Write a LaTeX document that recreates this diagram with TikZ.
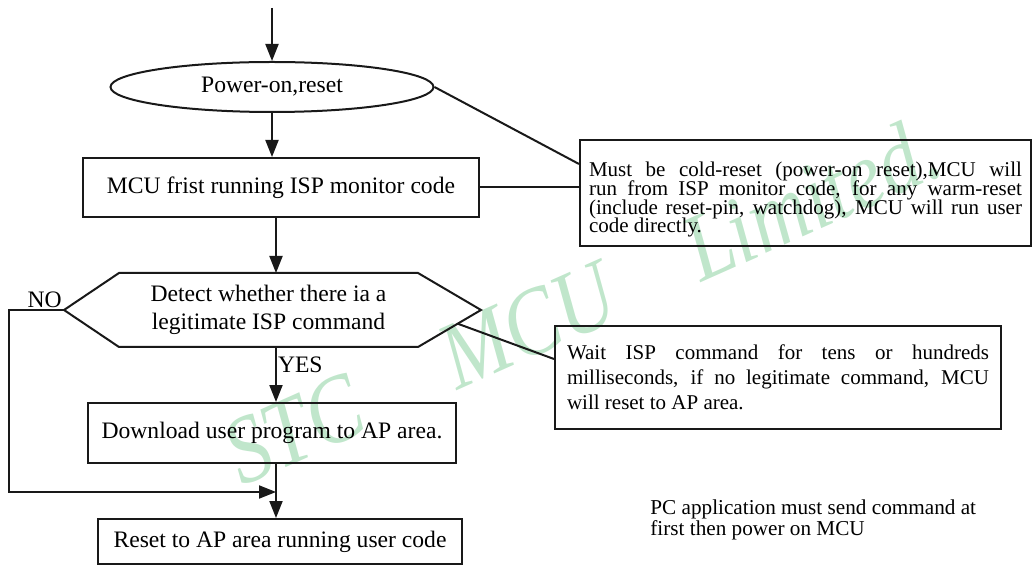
\documentclass[tikz,border=0pt]{standalone}
\usepackage{fontspec}
\setmainfont{Liberation Serif}
\usetikzlibrary{arrows.meta,calc,positioning,shapes.geometric}
\definecolor{markgreen}{RGB}{192,230,203}
\newcommand{\tightlines}{\lineskiplimit=-6pt\relax}
\tikzset{
  flow/.style={-{Triangle[length=8.5pt,width=6.5pt]}, line width=1pt, draw=black!90},
  link/.style={line width=1pt, draw=black!90},
  stepbox/.style={draw=black!90, line width=1pt, rectangle, align=center, inner sep=0pt, font=\fontsize{11.8}{14}\selectfont},
  remark/.style={draw=black!90, line width=1pt, rectangle, align=justify, inner ysep=0pt, font=\fontsize{10.5}{12.5}\selectfont},
  tag/.style={font=\fontsize{11.8}{14}\selectfont, inner sep=0.5pt}
}
\hyphenpenalty=10000
\exhyphenpenalty=10000

\begin{document}
\begin{tikzpicture}[x=0.5pt, y=-0.5pt]
  \useasboundingbox (0,0) rectangle (1032,566);
  % watermark behind everything
  \node[rotate=24, anchor=base west, inner sep=0pt, text=markgreen, font=\fontsize{48}{50}\selectfont\itshape] (mark) at (242,487)
    {\scalebox{0.85}[1]{STC\hspace{56pt}MCU\hspace{50pt}Limited.}};

  \coordinate (entry) at (272,8);
  \coordinate (spine) at (276,0);
  \node[stepbox, ellipse, minimum width=161.5pt, minimum height=25pt] (power) at (272,87) {Power-on,reset};
  \node[stepbox, minimum width=198pt, minimum height=29.5pt] (monitor) at (281,187.5) {MCU frist running ISP monitor code};
  \node[stepbox, draw=none, minimum width=148.5pt, minimum height=36pt] (detect) at (268.5,310) {Detect whether there ia a\\legitimate ISP command};
  \coordinate (detect-w) at ($(detect.west)+(-55,0)$);
  \coordinate (detect-e) at ($(detect.east)+(63,0)$);
  \draw[link] (detect.north west) -- (detect.north east) -- (detect-e) -- (detect.south east) -- (detect.south west) -- (detect-w) -- cycle;
  \node[stepbox, minimum width=184pt, minimum height=30pt] (download) at (272,433) {Download user program to AP area.};
  \node[stepbox, minimum width=182pt, minimum height=22.5pt] (restart) at (280,541.5) {Reset to AP area running user code};
  \coordinate (merge) at (276,492);

  \node[remark, text width=216.5pt, inner xsep=4.5pt, minimum height=53pt, font=\fontsize{10.5}{9.3}\selectfont\tightlines] (coldnote) at (805.5,193)
    {\vrule height 14pt width 0pt Must be cold-reset (power-on reset),MCU will\linebreak run from ISP monitor code, for any warm-reset\linebreak (include reset-pin, watchdog), MCU will run user\linebreak code directly.};
  \node[remark, text width=211pt, inner xsep=6pt, minimum height=51.5pt] (waitnote) at (778,377.5)
    {Wait ISP command for tens or hundreds\linebreak milliseconds, if no legitimate command, MCU\linebreak will reset to AP area.};
  \node[align=left, anchor=west, inner sep=0pt, font=\fontsize{10.6}{10.5}\selectfont] (pcnote) at (650,520)
    {PC application must send command at\\first then power on MCU};

  \draw[flow] (entry) -- (power.north);
  \draw[flow] (power.south) -- (power.south |- monitor.north);
  \draw[flow] (monitor.south -| spine) -- (detect.north -| spine);
  \draw[flow] (detect.south -| spine) -- node[tag, right, pos=0.33] {YES} (download.north -| spine);
  \draw[flow] (download.south -| spine) -- (restart.north -| spine);
  \draw[flow] (detect-w) -- node[tag, above, pos=0.35] {NO} ++(-55,0) |- (merge);

  \draw[link] (power.east) -- ($(coldnote.north west)+(0,25)$);
  \draw[link] (monitor.east) -- (monitor.east -| coldnote.west);
  \draw[link] ($(detect-e)!0.37!(detect.south east)$) -- ($(waitnote.north west)+(0,34)$);
\end{tikzpicture}
\end{document}
